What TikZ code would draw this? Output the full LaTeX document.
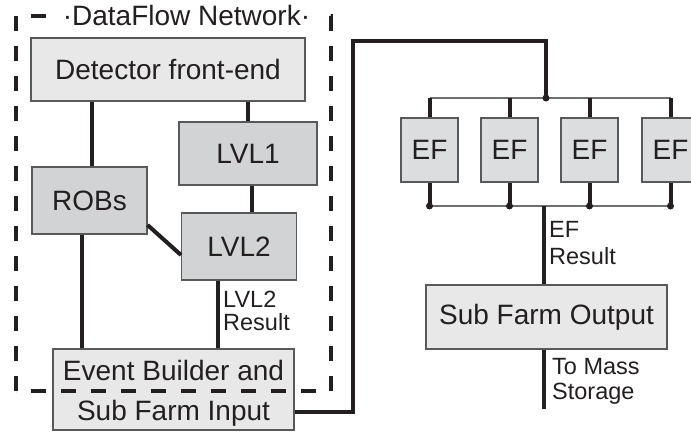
\documentclass[tikz,border=0pt]{standalone}
\usepackage{fontspec}
\setmainfont{Liberation Sans}
\definecolor{ink}{HTML}{231F20}
\definecolor{lightfill}{HTML}{E8E8E9}
\definecolor{darkfill}{HTML}{D2D3D4}
\definecolor{effill}{HTML}{DCDDDE}
\definecolor{boxline}{HTML}{58595B}
\definecolor{busgray}{HTML}{6D6E71}
\newcommand\bigfnt{\fontsize{28}{34}\selectfont}
\begin{document}
\begin{tikzpicture}[x=1pt,y=-1pt,
  box/.style={draw=boxline, line width=1.1pt, inner sep=0pt, font=\bigfnt, text=ink},
  light/.style={box, fill=lightfill},
  dark/.style={box, fill=darkfill},
  efbox/.style={box, fill=effill, minimum width=57pt, minimum height=64pt},
  conn/.style={line width=4pt, draw=ink},
  bus/.style={line width=1.3pt, draw=busgray},
  dot/.style={circle, fill=ink, inner sep=0pt, minimum size=7pt},
  lab/.style={text=ink, align=left, inner sep=0pt, anchor=base west},
]
\useasboundingbox (0,0) rectangle (691,432);

% DataFlow part
\node[light, minimum width=274pt, minimum height=63pt] (det) at (168,69.5) {Detector front-end};
\node[dark, minimum width=138pt, minimum height=63pt] (lvl1) at (248,153.5) {LVL1};
\node[dark, minimum width=115pt, minimum height=67pt] (robs) at (89.5,200.5) {ROBs};
\node[dark, minimum width=115pt, minimum height=67pt] (lvl2) at (239,246.5) {LVL2};
\node[light, minimum width=241pt, minimum height=81pt, align=center,
      text height=61pt, text depth=0pt,
      font=\fontsize{28}{40}\selectfont] (eb) at (173.5,389.5) {Event Builder and\\Sub Farm Input};

\draw[conn] (92,0 |- det.south) -- (92,0 |- robs.north);
\draw[conn] (248,0 |- det.south) -- (248,0 |- lvl1.north);
\draw[conn] (252,0 |- lvl1.south) -- (252,0 |- lvl2.north);
\draw[conn] (robs.east |- 0,225) -- (lvl2.west |- 0,255);
\draw[conn] (82,0 |- robs.south) -- (82,0 |- eb.north);
\draw[conn] (218,0 |- lvl2.south) -- (218,0 |- eb.north);

\node[lab, font=\fontsize{23.5}{23}\selectfont] (l2res) at (223,330) {LVL2\\Result};

% dashed DataFlow frame
\coordinate (fsw) at (16,391);
\coordinate (fnw) at (16,16);
\coordinate (fne) at (331,16);
\coordinate (fse) at (331,391);
\draw[line width=4pt, draw=ink, dash pattern=on 15pt off 15pt] (fsw) -- (fnw) -- (fne) -- (fse) -- cycle;
\node[fill=white, font=\bigfnt, text=ink, inner xsep=8pt, inner ysep=2pt] (title) at (186.5,15) {·DataFlow Network·};

% EF farm
\coordinate (jt) at (546,98);
\draw[conn] (eb.east |- 0,412) -- (353,412) -- (353,41) -- (546,41) -- (jt);

\foreach \i/\x in {1/429.5,2/509.5,3/589.5,4/670.5}{
  \node[efbox] (ef\i) at (\x,150) {EF};
  \coordinate (t\i) at (\x,98);
  \coordinate (b\i) at (\x,206);
}
\draw[bus] (t1) -- (t4);
\draw[bus] (b1) -- (b4);
\foreach \i in {1,2,3,4}{
  \draw[conn] (t\i) -- (ef\i.north);
  \draw[conn] (ef\i.south) -- (b\i);
  \node[dot] (d\i) at (b\i) {};
}
\node[dot] (dj) at (jt) {};

\coordinate (er) at (544,206);
\node[light, minimum width=241pt, minimum height=64pt] (sfo) at (546.5,317) {Sub Farm Output};
\draw[conn] (er) -- (er |- sfo.north);
\coordinate (ms) at (544,409);
\draw[conn] (er |- sfo.south) -- (ms);

\node[lab, font=\fontsize{23.5}{27}\selectfont] (efres) at (549,264) {EF\\Result};
\node[lab, font=\fontsize{23.5}{25}\selectfont] (tms) at (552,399) {To Mass\\Storage};
\end{tikzpicture}
\end{document}
